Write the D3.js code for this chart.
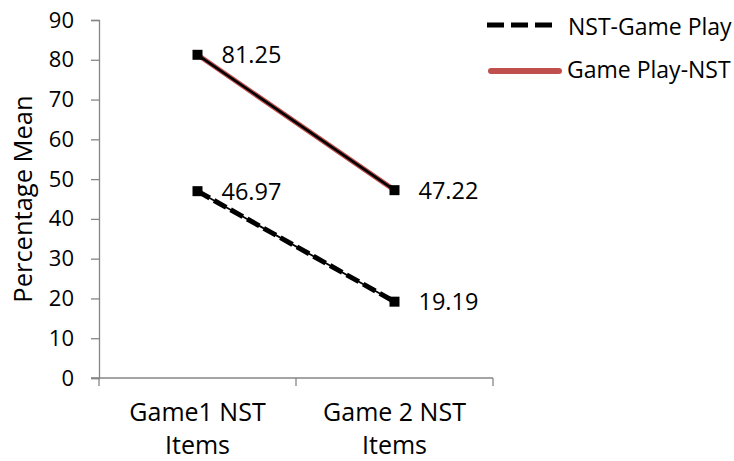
<!DOCTYPE html>
<html>
<head>
<meta charset="utf-8">
<script src="https://cdn.jsdelivr.net/npm/d3@7"></script>
<style>
  html, body { margin: 0; padding: 0; background: #fff; }
  svg text { font-family: "Open Sans", sans-serif; fill: #000; }
</style>
</head>
<body>
<svg id="chart" width="734" height="461"></svg>
<script>
// Chart data
const categories = ["Game1 NST|Items", "Game 2 NST|Items"];
const seriesNames = ["NST-Game Play", "Game Play-NST"];
const nstGamePlay = [46.97, 19.19];
const gamePlayNst = [81.25, 47.22];
const yTicks = [0, 10, 20, 30, 40, 50, 60, 70, 80, 90];

const FONT = "'Open Sans', sans-serif";
const svg = d3.select("#chart");
const plot = { left: 99, right: 493, top: 20, bottom: 378 };
const axisColor = "#868686";

const x = d3.scaleBand().domain(categories).range([plot.left, plot.right]);
const y = d3.scaleLinear().domain([0, 90]).range([plot.bottom, plot.top]);
const cx = c => x(c) + x.bandwidth() / 2;

// Y axis
const yAxis = d3.axisLeft(y).tickValues(yTicks).tickSize(8).tickPadding(17);
const gy = svg.append("g").attr("transform", `translate(${plot.left},0)`).call(yAxis);
gy.select(".domain").attr("stroke", axisColor).attr("stroke-width", 1.3);
gy.selectAll(".tick line").attr("stroke", axisColor).attr("stroke-width", 1.3);
gy.selectAll(".tick text").attr("font-size", 22).attr("font-family", FONT).attr("fill", "#000");

// X axis with tick marks at category boundaries
const gx = svg.append("g").attr("transform", `translate(0,${plot.bottom})`);
gx.append("line").attr("x1", plot.left - 8).attr("x2", plot.right)
  .attr("stroke", axisColor).attr("stroke-width", 1.3);
const bounds = [plot.left, x(categories[1]), plot.right];
gx.selectAll("line.tk").data(bounds).join("line").attr("class", "tk")
  .attr("x1", d => d).attr("x2", d => d).attr("y1", 0).attr("y2", 8)
  .attr("stroke", axisColor).attr("stroke-width", 1.3);
categories.forEach(c => {
  const lines = c.split("|");
  const t = gx.append("text").attr("text-anchor", "middle").attr("font-size", 25);
  lines.forEach((l, i) => {
    t.append("tspan").attr("x", cx(c)).attr("y", 43 + i * 33).text(l);
  });
});

// Y axis title
svg.append("text")
  .attr("transform", `translate(32,199) rotate(-90)`)
  .attr("text-anchor", "middle").attr("font-size", 25.5)
  .text("Percentage Mean");

const line = d3.line().x((d, i) => cx(categories[i])).y(d => y(d));

// Game Play-NST: red outline with black core
svg.append("path").datum(gamePlayNst).attr("d", line)
  .attr("fill", "none").attr("stroke", "#C0504D").attr("stroke-width", 5);
svg.append("path").datum(gamePlayNst).attr("d", line)
  .attr("fill", "none").attr("stroke", "#000").attr("stroke-width", 2.6);

// NST-Game Play: heavy black dashes over a thin black line
svg.append("path").datum(nstGamePlay).attr("d", line)
  .attr("fill", "none").attr("stroke", "#000").attr("stroke-width", 1.8);
svg.append("path").datum(nstGamePlay).attr("d", line)
  .attr("fill", "none").attr("stroke", "#000").attr("stroke-width", 5)
  .attr("stroke-dasharray", "14,5");

// Square markers and value labels
[nstGamePlay, gamePlayNst].forEach(series => {
  svg.append("g").selectAll("rect").data(series).join("rect")
    .attr("x", (d, i) => cx(categories[i]) - 5)
    .attr("y", d => y(d) - 5)
    .attr("width", 10).attr("height", 10).attr("fill", "#000");
  svg.append("g").selectAll("text").data(series).join("text")
    .attr("x", (d, i) => cx(categories[i]) + 24)
    .attr("y", d => y(d) + 8.5)
    .attr("font-size", 23.5)
    .text(d => d.toFixed(2));
});

// Legend
const lg = svg.append("g");
lg.append("line").attr("x1", 487).attr("x2", 552).attr("y1", 25).attr("y2", 25)
  .attr("stroke", "#000").attr("stroke-width", 5).attr("stroke-dasharray", "17,7");
lg.append("text").attr("x", 568).attr("y", 35).attr("font-size", 23).text(seriesNames[0]);
lg.append("line").attr("x1", 491).attr("x2", 559).attr("y1", 71).attr("y2", 71)
  .attr("stroke", "#C0504D").attr("stroke-width", 6).attr("stroke-linecap", "round");
lg.append("text").attr("x", 567).attr("y", 78).attr("font-size", 23).text(seriesNames[1]);
</script>
</body>
</html>
